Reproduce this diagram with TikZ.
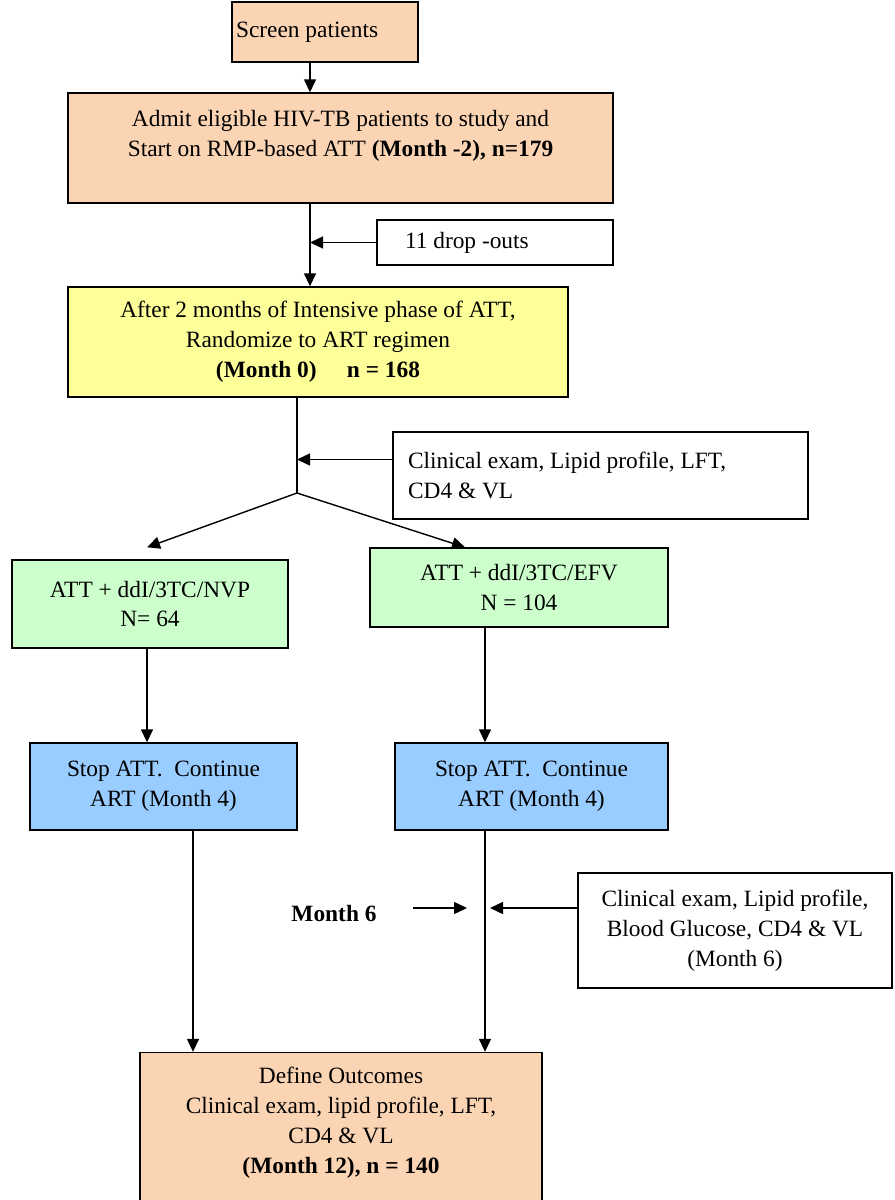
\documentclass[tikz,border=0pt]{standalone}
\usepackage{fontspec}
\setmainfont{Liberation Serif}
\usetikzlibrary{arrows.meta, positioning, shapes}
\definecolor{peach}{RGB}{251,212,180}
\definecolor{lightyellow}{RGB}{255,255,153}
\definecolor{lightgreen}{RGB}{204,255,204}
\definecolor{lightblue}{RGB}{153,204,255}
\tikzstyle{peachbox} = [rectangle, draw, line width=0.8pt, fill=peach, text centered, align=center]
\tikzstyle{yellowbox} = [rectangle, draw, line width=0.8pt, fill=lightyellow, text centered, align=center]
\tikzstyle{greenbox} = [rectangle, draw, line width=0.8pt, fill=lightgreen, text centered, align=center]
\tikzstyle{bluebox} = [rectangle, draw, line width=0.8pt, fill=lightblue, text centered, align=center]
\tikzstyle{notebox} = [rectangle, draw, line width=0.8pt, fill=white]
\tikzstyle{arrow} = [line width=0.8pt, -{Triangle[length=2.6mm, width=2.4mm]}]

\begin{document}
\begin{tikzpicture}[x=0.02cm, y=-0.02cm, font=\fontsize{13.3}{17}\selectfont]
\clip (0,0) rectangle (894,1200);
% Nodes
\node (screen) [peachbox, minimum width=3.72cm, minimum height=1.2cm, text width=3.56cm, inner xsep=0.08cm, align=flush left] at (325,32) {Screen patients};
\node (admit) [peachbox, minimum width=10.9cm, minimum height=2.2cm] at (340.5,148)
{Admit eligible HIV-TB patients to study and\\Start on RMP-based ATT \textbf{(Month -2), n=179}\\~};
\node (drops) [notebox, minimum width=4.72cm, minimum height=0.9cm, text width=3.6cm, inner xsep=0.56cm, align=flush left] at (495,242.5) {11 drop -outs};
\node (rand) [yellowbox, minimum width=10cm, minimum height=2.2cm] at (318,342)
{After 2 months of Intensive phase of ATT,\\Randomize to ART regimen\\\textbf{(Month 0)\hspace{1.3em}n = 168}};
\node (exam1) [notebox, minimum width=8.3cm, minimum height=1.74cm, text width=7.7cm, inner xsep=0.3cm, align=flush left] at (600.5,475.5)
{Clinical exam, Lipid profile, LFT,\\CD4 \& VL};

\node (nvp) [greenbox, minimum width=5.52cm, minimum height=1.76cm] at (150,604) {ATT + ddI/3TC/NVP\\N= 64};
\node (efv) [greenbox, minimum width=5.96cm, minimum height=1.58cm] at (519,587.5) {ATT + ddI/3TC/EFV\\N = 104};

\node (stopl) [bluebox, minimum width=5.34cm, minimum height=1.74cm] at (163.5,786.5) {Stop ATT.\ \ Continue\\ART (Month 4)};
\node (stopr) [bluebox, minimum width=5.46cm, minimum height=1.74cm] at (531.5,786.5) {Stop ATT.\ \ Continue\\ART (Month 4)};

\node (month6) [font=\fontsize{13.3}{17}\selectfont\bfseries] at (334,913) {Month 6};
\node (exam2) [notebox, minimum width=6.28cm, minimum height=2.3cm, align=center] at (735,930.5)
{Clinical exam, Lipid profile,\\Blood Glucose, CD4 \& VL\\(Month 6)};

\node (outcome) [peachbox, minimum width=8.04cm, minimum height=3.9cm] at (341,1150)
{Define Outcomes\\Clinical exam, lipid profile, LFT,\\CD4 \& VL\\\textbf{(Month 12), n = 140}\\~\\~};

% Lanes
\coordinate (laneA) at (310,0);
\coordinate (laneB) at (297,0);
\coordinate (split) at (297,493);
\coordinate (laneL) at (147,0);
\coordinate (laneR) at (485,0);
\coordinate (laneE) at (193,0);
\coordinate (mark6) at (413,908);
\coordinate (hit6) at (467,908);
\coordinate (hitexam2) at (490,908);

% Connections
\draw [arrow] (screen.south -| laneA) -- (admit.north -| laneA);
\draw [arrow] (admit.south -| laneA) -- (rand.north -| laneA);
\draw [arrow] (drops.west) -- (drops.west -| laneA);

\draw [line width=0.8pt] (rand.south -| laneB) -- (split);
\draw [arrow] ([yshift=0.32cm]exam1.west) -- ([yshift=0.32cm]exam1.west -| split);
\draw [arrow] (split) -- ([yshift=0.24cm]nvp.north -| laneL);
\draw [arrow] (split) -- ([xshift=-1.08cm]efv.north);

\draw [arrow] (nvp.south -| laneL) -- (stopl.north -| laneL);
\draw [arrow] (efv.south -| laneR) -- (stopr.north -| laneR);

\draw [arrow] (stopl.south -| laneE) -- (outcome.north -| laneE);
\draw [arrow] (stopr.south -| laneR) -- (outcome.north -| laneR);

\draw [arrow] (mark6) -- (hit6);
\draw [arrow] (exam2.west |- hitexam2) -- (hitexam2);
\end{tikzpicture}
\end{document}
